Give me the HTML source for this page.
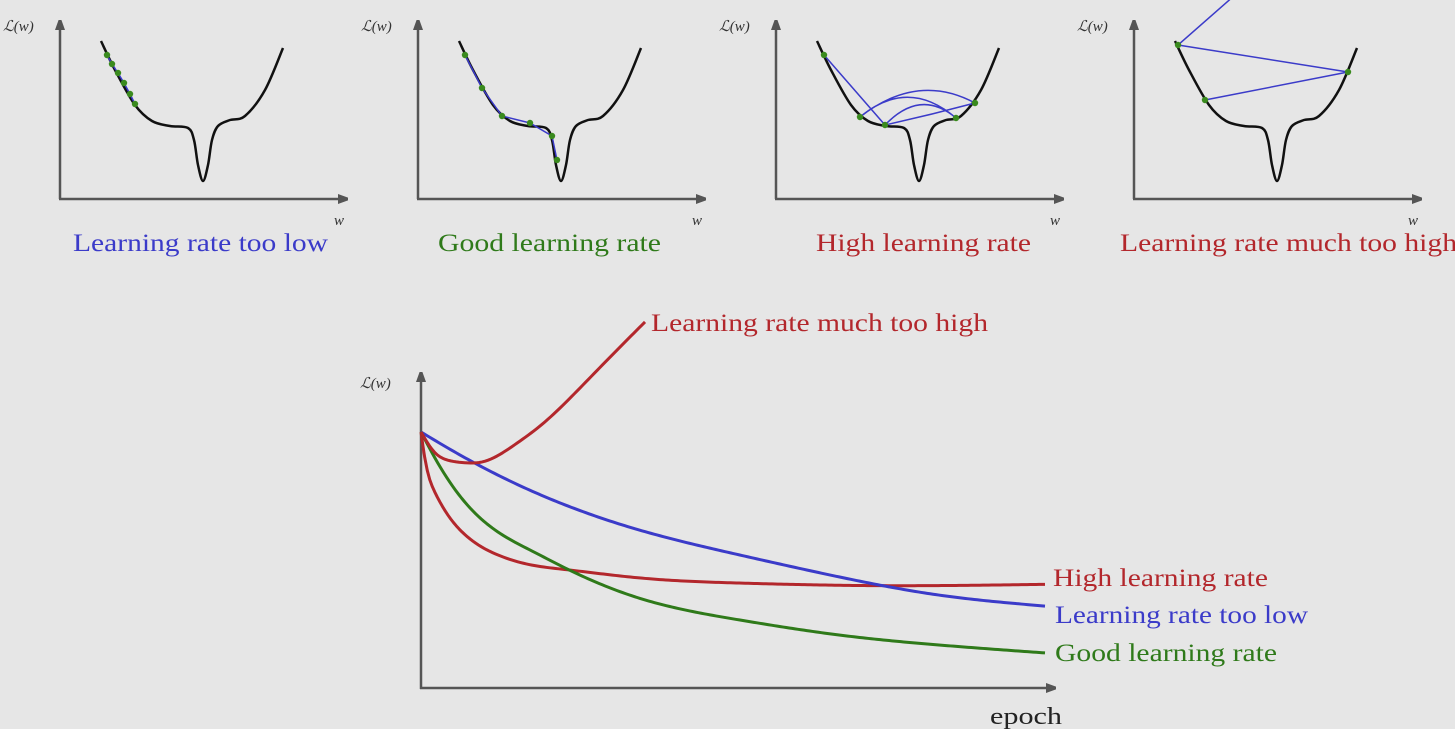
<!DOCTYPE html>
<html><head><meta charset="utf-8"><style>
html,body{margin:0;padding:0;background:#e6e6e6;overflow:hidden;}
svg{display:block;}
text{font-family:"Liberation Serif",serif;}
</style></head><body>
<svg id="s" width="1455" height="729" viewBox="0 0 1455 729">
<defs><marker id="ah" markerWidth="10" markerHeight="10" refX="2" refY="5" orient="auto" markerUnits="userSpaceOnUse"><path d="M0,0 L14,5 L0,10 z" fill="#555"/></marker></defs>
<rect x="0" y="0" width="1455" height="729" fill="#e6e6e6"/>
<g id="panels"></g>
<g id="main"></g>
</svg>
<script>
// bottom chart data (epoch 0..100, loss relative to initial = 1)
const blueEpochs=[0,4.3,15,35,51,67,83,100];
const blueLoss=[1.0,0.9375,0.80,0.617,0.52,0.434,0.363,0.32];
const redEpochs=[0,0.6,2.2,4.3,7,12.3,17.8,23,35,51,72,100];
const redLoss=[1.0,0.9,0.766,0.676,0.6,0.52,0.48,0.463,0.43,0.41,0.40,0.405];
const greenEpochs=[0,2.2,7,12.3,17.8,23,35.1,51,67,83,100];
const greenLoss=[1.0,0.90,0.727,0.61,0.535,0.47,0.35,0.266,0.207,0.168,0.137];
const hiEpochs=[0,2.2,4.3,7,9.8,15,19.4,25,30,35.9];
const hiLoss=[1.0,0.92,0.89,0.88,0.883,0.95,1.03,1.16,1.285,1.43];
// top panels: loss landscape points (panel-local w, L)
const curveW=[41,55,75,92,110,128,134,138,143,148,152,158,170,185,205,223];
const curveL=[41,70,105,121,126,128,140,165,181,165,140,126,120,116,90,48];
const tooLowW=[107,112,118,124,130,135];
const tooLowL=[55,64,73,83,94,104];
const goodW=[107,124,144,172,194,199];
const goodL=[55,88,116,123,136,160];
const highW=[108,144,169,240,259];
const highL=[55,117,125,118,103];
const muchW=[131,274,104,161];
const muchL=[100,72,45,-5];

const NS="http://www.w3.org/2000/svg";
function mk(tag,attrs,parent){const e=document.createElementNS(NS,tag);for(const k in attrs)e.setAttribute(k,attrs[k]);parent.appendChild(e);return e;}
function smooth(pts){let d="M"+pts[0][0]+","+pts[0][1];for(let i=0;i<pts.length-1;i++){const p0=pts[Math.max(0,i-1)],p1=pts[i],p2=pts[i+1],p3=pts[Math.min(pts.length-1,i+2)];
const c1x=p1[0]+(p2[0]-p0[0])/6,c1y=p1[1]+(p2[1]-p0[1])/6,c2x=p2[0]-(p3[0]-p1[0])/6,c2y=p2[1]-(p3[1]-p1[1])/6;
d+=" C"+c1x+","+c1y+" "+c2x+","+c2y+" "+p2[0]+","+p2[1];}return d;}
// natural cubic spline y(x), sampled
function spline(pts){const n=pts.length,x=pts.map(p=>p[0]),y=pts.map(p=>p[1]);const h=[];for(let i=0;i<n-1;i++)h.push(x[i+1]-x[i]);
const a=new Array(n).fill(0),b=new Array(n).fill(1),c=new Array(n).fill(0),r=new Array(n).fill(0);
for(let i=1;i<n-1;i++){a[i]=h[i-1];b[i]=2*(h[i-1]+h[i]);c[i]=h[i];r[i]=6*((y[i+1]-y[i])/h[i]-(y[i]-y[i-1])/h[i-1]);}
for(let i=1;i<n;i++){const m=a[i]/b[i-1];b[i]-=m*c[i-1];r[i]-=m*r[i-1];}
const M=new Array(n).fill(0);M[n-1]=r[n-1]/b[n-1];for(let i=n-2;i>=0;i--)M[i]=(r[i]-c[i]*M[i+1])/b[i];M[0]=0;M[n-1]=0;
let d="M"+x[0]+","+y[0];for(let i=0;i<n-1;i++){const steps=Math.max(4,Math.ceil(h[i]/3));for(let k=1;k<=steps;k++){const t=x[i]+h[i]*k/steps;const A=(x[i+1]-t)/h[i],B=(t-x[i])/h[i];
const v=A*y[i]+B*y[i+1]+((A*A*A-A)*M[i]+(B*B*B-B)*M[i+1])*h[i]*h[i]/6;d+=" L"+t.toFixed(2)+","+v.toFixed(2);}}return d;}
const BLUE="#3b3bc9",GREEN="#2f7a1a",RED="#b3272c",PT="#3a8a1e";

// panels
const panels=document.getElementById('panels');
const caps=[["Learning rate too low",BLUE,tooLowW,tooLowL,73,255],["Good learning rate",GREEN,goodW,goodL,80,223],["High learning rate",RED,highW,highL,100,215],["Learning rate much too high",RED,muchW,muchL,46,337]];
caps.forEach((c,i)=>{
  const ox=i*358;
  const g=mk('g',{transform:`translate(${ox},0)`},panels);
  
  
  const ya=mk('line',{x1:60,y1:199,x2:60,y2:28,stroke:'#555','stroke-width':2.5,'marker-end':'url(#ah)'},g);
  
  const xa=mk('line',{x1:59,y1:199,x2:340,y2:199,stroke:'#555','stroke-width':2.5,'marker-end':'url(#ah)'},g);
  
  const yl=mk('text',{x:3,y:31,'font-size':15,fill:'#333','font-style':'italic'},g);yl.textContent="ℒ(w)";
  
  const xl=mk('text',{x:334,y:225,'font-size':15,fill:'#333','font-style':'italic'},g);xl.textContent="w";
  
  const cv=mk('path',{d:smooth(curveW.map((w,j)=>[w+60,curveL[j]])),fill:'none',stroke:'#111','stroke-width':2.5},g);
  
  const pts=c[2].map((w,j)=>[w,c[3][j]]);
  let d="";
  if(i==2){
    d=`M${pts[0]} L${pts[2]} Q${(pts[2][0]+pts[4][0])/2},${pts[2][1]-10} ${pts[4]} Q${(pts[4][0]+pts[1][0])/2},${pts[1][1]-45} ${pts[1]} Q${(pts[1][0]+pts[3][0])/2},${pts[1][1]-40} ${pts[3]} Q${(pts[3][0]+pts[2][0])/2},${pts[3][1]-30} ${pts[2]}`;
  } else d="M"+pts.map(p=>p.join(",")).join(" L");
  const st=mk('path',{d:d,fill:'none',stroke:BLUE,'stroke-width':1.5},g);
  
  pts.forEach(p=>{if(p[1]<0)return;const dot=mk('circle',{cx:p[0],cy:p[1],r:3.2,fill:PT},g);
    });
  const cap=mk('text',{x:c[4],y:251,'font-size':25,fill:c[1],textLength:c[5],lengthAdjust:'spacingAndGlyphs'},g);cap.textContent=c[0];
  
});

// main chart
const main=document.getElementById('main');
const X0=421,Y0=688;
const xs=e=>X0+e*6.24, ys=L=>Y0-L*256;
const ya=mk('line',{x1:X0,y1:Y0+1,x2:X0,y2:380,stroke:'#555','stroke-width':2.5,'marker-end':'url(#ah)'},main);

const xa=mk('line',{x1:X0-1,y1:Y0,x2:1048,y2:Y0,stroke:'#555','stroke-width':2.5,'marker-end':'url(#ah)'},main);

const yl=mk('text',{x:360,y:388,'font-size':15,fill:'#333','font-style':'italic'},main);yl.textContent="ℒ(w)";

const xl=mk('text',{x:990,y:724,'font-size':24,fill:'#222',textLength:72,lengthAdjust:'spacingAndGlyphs'},main);xl.textContent="epoch";

const series=[[redEpochs,redLoss,RED,"High learning rate",1053,586,"line-high",215],[blueEpochs,blueLoss,BLUE,"Learning rate too low",1055,623,"line-too-low",253],[greenEpochs,greenLoss,GREEN,"Good learning rate",1055,661,"line-good",222],[hiEpochs,hiLoss,RED,"Learning rate much too high",651,331,"line-much-too-high",337]];
series.forEach(s=>{
  const p=mk('path',{d:spline(s[0].map((e,j)=>[xs(e),ys(s[1][j])])),fill:'none',stroke:s[2],'stroke-width':3,'stroke-linejoin':'round'},main);
  
  const t=mk('text',{x:s[4],y:s[5],'font-size':25,fill:s[2],textLength:s[7],lengthAdjust:'spacingAndGlyphs'},main);t.textContent=s[3];
  
});
</script>
</body></html>
